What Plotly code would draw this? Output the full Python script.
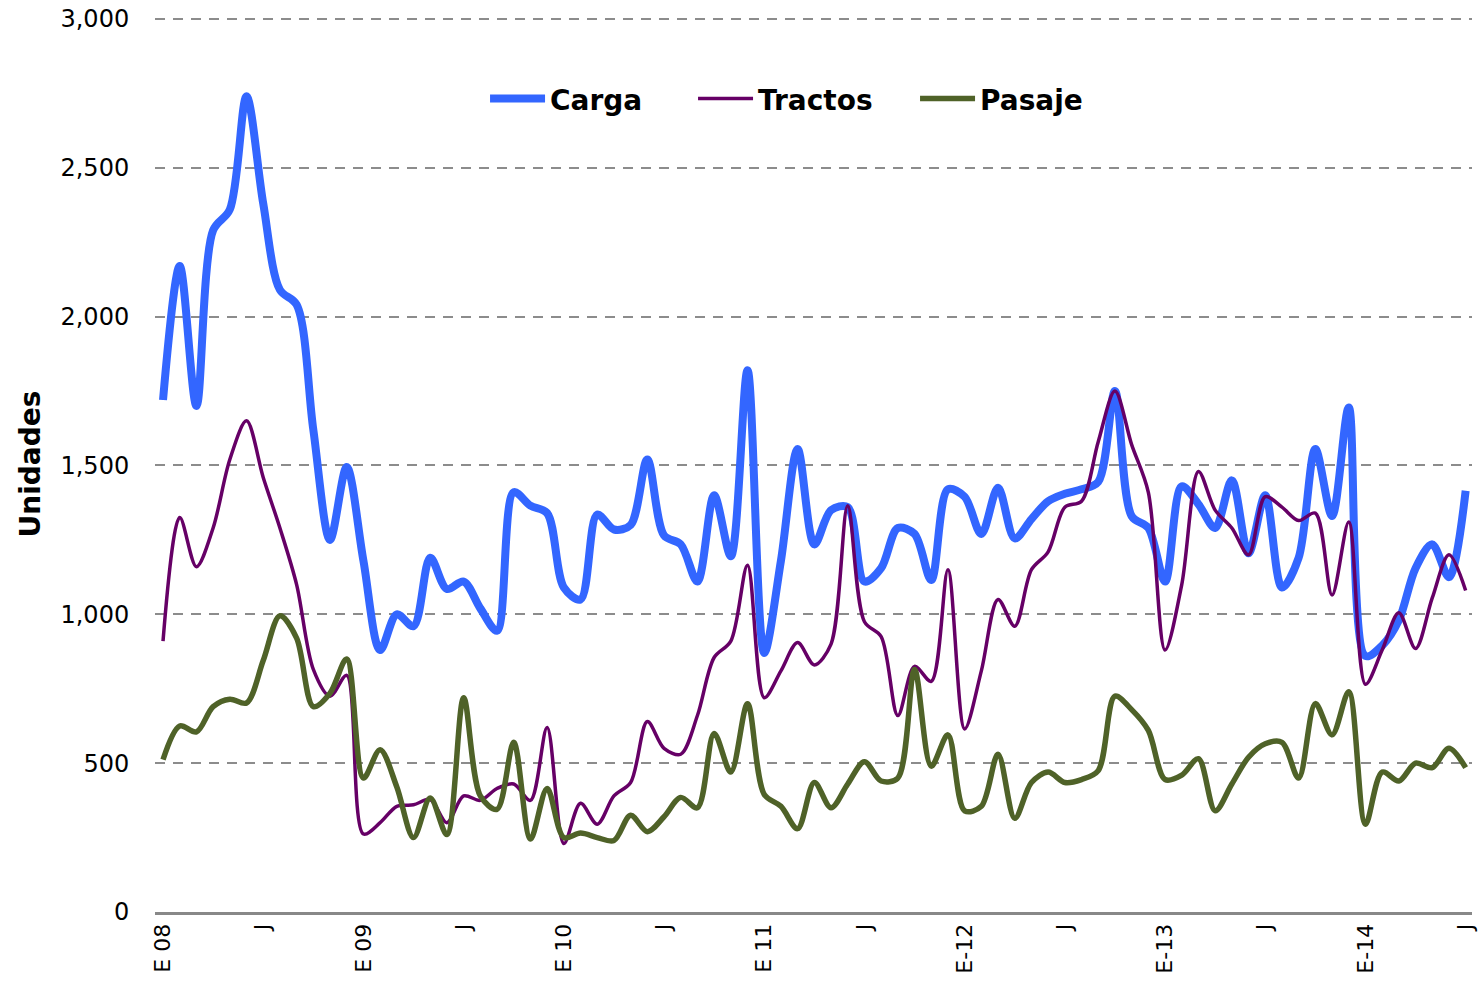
import plotly.graph_objects as go

# month index 0 = Jan 2008 ... 78 = Jul 2014
month_index = list(range(79))
tick_positions = [0, 6, 12, 18, 24, 30, 36, 42, 48, 54, 60, 66, 72, 78]
tick_labels = ["E 08", "J", "E 09", "J", "E 10", "J", "E 11", "J",
               "E-12", "J", "E-13", "J", "E-14", "J"]

carga = [1720, 2170, 1700, 2290, 2360, 2740, 2380, 2090, 2040, 1620,
         1250, 1495, 1180, 880, 1000, 960, 1190, 1085, 1110, 1020,
         945, 1410, 1365, 1340, 1090, 1050, 1335, 1285, 1300, 1520,
         1265, 1235, 1110, 1400, 1195, 1820, 870, 1180, 1555, 1235,
         1350, 1360, 1110, 1155, 1290, 1270, 1115, 1420, 1395, 1270,
         1425, 1255, 1320, 1380, 1405, 1420, 1445, 1750, 1330, 1290,
         1110, 1430, 1370, 1290, 1450, 1205, 1400, 1090, 1190, 1555,
         1330, 1695, 860, 895, 980, 1155, 1235, 1125, 1415]

tractos = [910, 1325, 1160, 1290, 1520, 1650, 1460, 1290, 1100, 815,
           725, 795, 262, 300, 355, 360, 378, 300, 390, 375,
           415, 430, 375, 620, 230, 365, 295, 390, 435, 640,
           550, 530, 660, 855, 910, 1165, 720, 810, 905, 830,
           900, 1365, 975, 925, 660, 825, 775, 1150, 615, 810,
           1050, 960, 1150, 1210, 1360, 1380, 1580, 1750, 1570, 1410,
           880, 1100, 1480, 1350, 1290, 1200, 1395, 1360, 1315, 1340,
           1065, 1310, 765, 880, 1005, 885, 1055, 1200, 1080]

pasaje = [512, 625, 605, 690, 715, 702, 845, 995, 920, 690,
          735, 850, 450, 545, 420, 250, 383, 260, 720, 390,
          345, 570, 245, 415, 250, 265, 250, 240, 325, 270,
          320, 385, 350, 600, 470, 700, 395, 355, 280, 435,
          350, 430, 505, 440, 450, 815, 490, 595, 340, 355,
          530, 315, 435, 470, 435, 445, 475, 725, 680, 610,
          445, 460, 515, 340, 430, 520, 565, 570, 450, 700,
          595, 740, 295, 470, 440, 500, 485, 550, 485]

y_ticks = [0, 500, 1000, 1500, 2000, 2500, 3000]

fig = go.Figure()
fig.add_trace(go.Scatter(x=month_index, y=carga, name="Carga", mode="lines", legendwidth=138,
                         line=dict(color="#3366FF", width=8, shape="spline", smoothing=0.9)))
fig.add_trace(go.Scatter(x=month_index, y=tractos, name="Tractos", mode="lines", legendwidth=152,
                         line=dict(color="#660066", width=3.5, shape="spline", smoothing=0.9)))
fig.add_trace(go.Scatter(x=month_index, y=pasaje, name="Pasaje", mode="lines", legendwidth=140,
                         line=dict(color="#4F6228", width=5.5, shape="spline", smoothing=0.9)))

fig.update_layout(
    width=1484, height=982,
    margin=dict(l=155, r=12, t=16, b=70, autoexpand=False),
    paper_bgcolor="white", plot_bgcolor="white",
    font=dict(family="DejaVu Sans, sans-serif", color="black"),
    legend=dict(orientation="h", x=0.2506, xanchor="left", y=0.9075, yanchor="middle",
                font=dict(family="DejaVu Sans, sans-serif", size=28, weight="bold", color="black"),
                itemwidth=55, bgcolor="rgba(0,0,0,0)"),
    showlegend=True,
)
fig.update_xaxes(
    range=[-0.48, 78.38], automargin=False,
    tickmode="array", tickvals=tick_positions, ticktext=tick_labels,
    tickangle=-90, tickfont=dict(family="DejaVu Sans, sans-serif", size=22, color="black"),
    ticks="",
    showgrid=False, zeroline=False,
    showline=True, linecolor="#888888", linewidth=3,
)
fig.update_yaxes(
    range=[0, 3010], automargin=False,
    tickmode="array", tickvals=y_ticks, tickformat=",",
    tickfont=dict(family="DejaVu Sans, sans-serif", size=24, color="black"),
    ticks="outside", ticklen=20, tickcolor="rgba(0,0,0,0)",
    showgrid=True, gridcolor="#8c8c8c", gridwidth=2, griddash="10px,8px",
    zeroline=False, showline=False,
    title=dict(text="<b>Unidades</b>", standoff=11,
               font=dict(family="DejaVu Sans, sans-serif", size=28, color="black")),
)

fig.write_html("out.html", config={"displayModeBar": False},
               post_script="document.body.style.margin='0';")
